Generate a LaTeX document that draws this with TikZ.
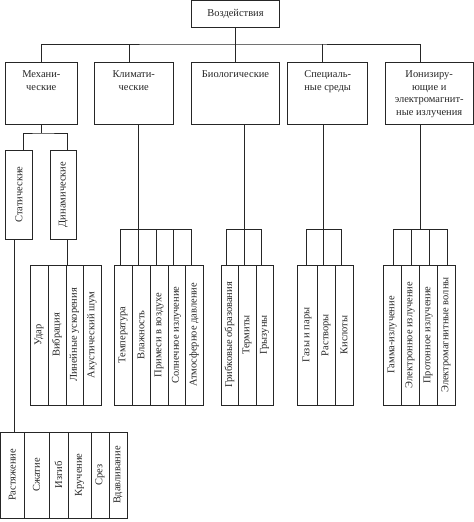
\documentclass[tikz,border=0pt]{standalone}
\usepackage{fontspec}
\setmainfont{Liberation Serif}
\usepackage{graphicx}
\usepackage{tikz}
\tikzstyle{topbox} = [draw, rectangle, minimum width=88bp, minimum height=26.5bp, inner sep=0]
\tikzstyle{catbox} = [draw, rectangle, minimum height=62bp, inner sep=0]
\tikzstyle{kindbox} = [draw, rectangle, minimum height=89bp, minimum width=26.6bp, inner sep=0]
\tikzstyle{leafbox} = [draw, rectangle, minimum height=140bp, inner sep=0]
\newcommand\toptext[1]{\vbox to 54bp{\vskip2bp\hbox{\begin{tabular}{@{}c@{}}#1\end{tabular}}\vss}}
\newcommand\upright[1]{\rotatebox{90}{#1}}

\begin{document}
\begin{tikzpicture}[x=1bp, y=-1bp, line width=0.7bp, color=black!85,
    font=\fontsize{10.5}{13}\selectfont]
\useasboundingbox (0,0) rectangle (474,522);

% Wurzel und Kategorien
\node[topbox] (top) at (235.5,13.75) {Воздействия};
\node[catbox, minimum width=72bp] (mech) at (41.3,93) {\toptext{Механи-\\ческие}};
\node[catbox, minimum width=79.3bp] (klim) at (133.7,93) {\toptext{Климати-\\ческие}};
\node[catbox, minimum width=88.3bp] (bio) at (235.5,93) {\toptext{Биологические}};
\node[catbox, minimum width=80bp] (spec) at (327.7,93) {\toptext{Специаль-\\ные среды}};
\node[catbox, minimum width=88.3bp] (ion) at (429.2,93)
    {\toptext{Ионизиру-\\ющие и\\электромагнит-\\ные излучения}};

\coordinate (bus) at (235.5,44);
\draw (top) -- (bio);
\draw (mech.north) |- (bus) -| ([xshift=-9.2bp]ion.north);
\draw ([xshift=-4.5bp]klim.north) -- ([xshift=-4.5bp]klim.north |- bus);
\draw ([xshift=-5bp]spec.north) -- ([xshift=-5bp]spec.north |- bus);

% mechanische Einwirkungen
\node[kindbox] (stat) at (19,194.5) {\upright{Статические}};
\node[kindbox] (dyn) at (63.3,194.5) {\upright{Динамические}};
\coordinate (mechbus) at (41.3,133);
\draw (mech) -- (mechbus);
\draw ([xshift=4.3bp]stat.north) |- (mechbus) -| ([xshift=4.3bp]dyn.north);

\foreach \xa/\xb/\txt [count=\i] in {30/48/Удар, 48/66/Вибрация,
    66/83/Линейные ускорения, 83/101/Акустический шум}
  \node[leafbox, minimum width={(\xb-\xa)*1bp}] (dyn\i) at ({(\xa+\xb)/2},335) {\upright{\txt}};
\foreach \xa/\xb/\txt [count=\i] in {0.5/24/Растяжение, 24/49/Сжатие, 49/68/Изгиб,
    68/91/Кручение, 91/109/Срез, 109/127/Вдавливание}
  \node[leafbox, minimum height=86bp, minimum width={(\xb-\xa)*1bp}] (sta\i)
    at ({(\xa+\xb)/2},475) {\upright{\txt}};
\draw ([xshift=-4.7bp]stat.south) -- ([xshift=-4.7bp]stat.south |- sta1.north);
\draw ([xshift=4.3bp]dyn.south) -- ([xshift=4.3bp]dyn.south |- dyn1.north);

% klimatische
\foreach \xa/\xb/\txt [count=\i] in {114/132/Температура, 132/150/Влажность,
    150/168/Примеси в воздухе, 168/185/Солнечное излучение, 185/203/Атмосферное давление}
  \node[leafbox, minimum width={(\xb-\xa)*1bp}] (kli\i) at ({(\xa+\xb)/2},335) {\upright{\txt}};
\coordinate (klibus) at (138,229);
\draw ([xshift=-3bp]kli2.north) -- ([xshift=-3bp]kli2.north |- klim.south);
\draw ([xshift=-3bp]kli1.north |- klibus) -- ([xshift=-3bp]kli5.north |- klibus);
\foreach \i in {1,3,4,5}
  \draw ([xshift=-3bp]kli\i.north) -- ([xshift=-3bp]kli\i.north |- klibus);

% biologische
\foreach \xa/\xb/\txt [count=\i] in {221/238/Грибковые образования, 238/256/Термиты,
    256/273/Грызуны}
  \node[leafbox, minimum width={(\xb-\xa)*1bp}] (bio\i) at ({(\xa+\xb)/2},335) {\upright{\txt}};
\coordinate (biobus) at (244,229);
\draw ([xshift=-3bp]bio2.north) -- ([xshift=-3bp]bio2.north |- bio.south);
\draw ([xshift=-3bp]bio1.north |- biobus) -- ([xshift=-3bp]bio3.north |- biobus);
\foreach \i in {1,3}
  \draw ([xshift=-3bp]bio\i.north) -- ([xshift=-3bp]bio\i.north |- biobus);

% spezielle Medien
\foreach \xa/\xb/\txt [count=\i] in {297/317/Газы и пары, 317/335/Растворы,
    335/353/Кислоты}
  \node[leafbox, minimum width={(\xb-\xa)*1bp}] (spe\i) at ({(\xa+\xb)/2},335) {\upright{\txt}};
\coordinate (spebus) at (323,229);
\draw ([xshift=-3bp]spe2.north) -- ([xshift=-3bp]spe2.north |- spec.south);
\draw ([xshift=-1bp]spe1.north |- spebus) -- ([xshift=-3bp]spe3.north |- spebus);
\draw ([xshift=-1bp]spe1.north) -- ([xshift=-1bp]spe1.north |- spebus);
\draw ([xshift=-3bp]spe3.north) -- ([xshift=-3bp]spe3.north |- spebus);

% Strahlung
\foreach \xa/\xb/\txt [count=\i] in {383/401/Гамма-излучение, 401/419/Электронное излучение,
    419/437/Протонное излучение, 437/455/Электромагнитные волны}
  \node[leafbox, minimum width={(\xb-\xa)*1bp}] (ioz\i) at ({(\xa+\xb)/2},335) {\upright{\txt}};
\coordinate (ionbus) at (420,229);
\draw (ion.south -| ionbus) -- (ionbus);
\draw ([xshift=1.5bp]ioz1.north |- ionbus) -- ([xshift=1.5bp]ioz4.north |- ionbus);
\foreach \i in {1,...,4}
  \draw ([xshift=1.5bp]ioz\i.north) -- ([xshift=1.5bp]ioz\i.north |- ionbus);
\end{tikzpicture}
\end{document}
